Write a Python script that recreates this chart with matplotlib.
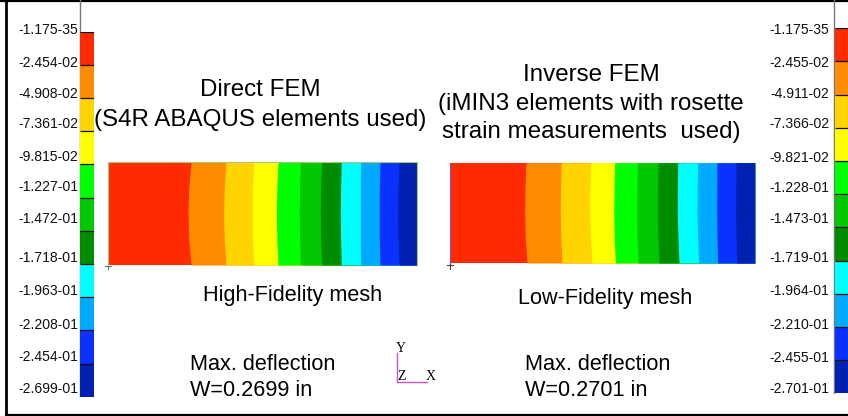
import matplotlib
matplotlib.use("Agg")
import matplotlib.pyplot as plt

plt.rcParams["font.family"] = ["Liberation Sans", "DejaVu Sans"]

# legend levels, as printed on each side
left_labels = ["-1.175-35", "-2.454-02", "-4.908-02", "-7.361-02", "-9.815-02", "-1.227-01",
               "-1.472-01", "-1.718-01", "-1.963-01", "-2.208-01", "-2.454-01", "-2.699-01"]
right_labels = ["-1.175-35", "-2.455-02", "-4.911-02", "-7.366-02", "-9.821-02", "-1.228-01",
                "-1.473-01", "-1.719-01", "-1.964-01", "-2.210-01", "-2.455-01", "-2.701-01"]
left_levels = [0.0, -0.02454, -0.04908, -0.07361, -0.09815, -0.1227,
               -0.1472, -0.1718, -0.1963, -0.2208, -0.2454, -0.2699]
right_levels = [0.0, -0.02455, -0.04911, -0.07366, -0.09821, -0.1228,
                -0.1473, -0.1719, -0.1964, -0.2210, -0.2455, -0.2701]

band_colors = ["#ff2b00", "#ff8c00", "#ffd400", "#ffff00", "#00ff00", "#00c800",
               "#008c00", "#00ffff", "#00aaff", "#0a32ff", "#0020b0"]

# contour band edges along the plate, at the top, middle and bottom of its width
plate_stations = [0.0, 0.25, 0.5, 0.75, 1.0]
left_edges = [
    [82.7, 80.5, 79.7, 80.5, 82.7],
    [117.7, 116, 115.3, 116, 117.7],
    [145.3, 144.3, 144, 144.3, 145.3],
    [169.7, 168.5, 168, 168.5, 169.7],
    [192, 191.3, 191, 191.3, 192],
    [213.3, 212.3, 212, 212.3, 213.3],
    [233, 232.3, 232, 232.3, 233],
    [252.3, 252, 252, 252, 252.3],
    [271.7, 271, 271, 271, 271.7],
    [290.7, 289.7, 289.3, 289.7, 290.7],
]
right_edges = [
    [76, 75, 74.7, 75.3, 77],
    [111.3, 110.5, 110.3, 110.8, 112],
    [140.7, 139.9, 139.7, 140.5, 142],
    [164.7, 164, 163.7, 164.2, 165.3],
    [187.3, 186.9, 186.7, 187, 188],
    [208, 207.5, 207.3, 207.8, 209],
    [227.7, 227.4, 227.3, 228, 229],
    [247.7, 247.2, 247, 247.6, 248.7],
    [267, 266.8, 266.7, 267, 267.7],
    [286, 285.8, 285.7, 286, 286.7],
]

left_label_y = [30, 63, 94, 124, 157, 187, 219, 258, 291, 325, 357, 389]
right_label_y = [30, 63, 94, 124, 158, 188, 219, 258, 291, 325, 358, 389]

W, H = 848, 416


def px_axes(fig, x0, y0, x1, y1):
    """Axes placed by pixel box, y measured from the top of the figure."""
    return fig.add_axes([x0 / W, 1 - y1 / H, (x1 - x0) / W, (y1 - y0) / H])


def draw_colorbar(fig, box, levels):
    ax = px_axes(fig, *box)
    heights = [b - a for a, b in zip(levels[:-1], levels[1:])]
    ax.bar(0, heights, bottom=levels[:-1], width=1, color=band_colors, align="edge", linewidth=0)
    # only the level lines are dark, the bar has no side edges
    ax.hlines(levels[:-1], 0, 1, color="#101010", lw=0.9)
    ax.set_xlim(0, 1)
    ax.set_ylim(levels[-1], levels[0])
    ax.axis("off")


def draw_plate(fig, box, edges, outline, sides):
    ax = px_axes(fig, *box)
    length = box[2] - box[0]
    start = [0.0] * len(plate_stations)
    end = [length] * len(plate_stations)
    bounds = [start] + edges
    # paint each band through to the far end so no seams show between them
    for i, color in enumerate(band_colors):
        ax.fill_betweenx(plate_stations, bounds[i], end, color=color, linewidth=0)
    ax.set_xlim(0, length)
    ax.set_ylim(1, 0)
    ax.set_xticks([])
    ax.set_yticks([])
    for name, side in ax.spines.items():
        side.set_visible(name in sides)
        side.set_color(outline)
        side.set_linewidth(0.8)


fig = plt.figure(figsize=(W / 100, H / 100), dpi=100, facecolor="white")

# whole figure overlay in pixel units, for the frame, text and small marks
bg = fig.add_axes([0, 0, 1, 1])
bg.set_xlim(0, W)
bg.set_ylim(H, 0)
bg.axis("off")
bg.plot([6, 6], [0, 416], color="black", lw=2.0)
bg.plot([0, 848], [0.5, 0.5], color="black", lw=1.6)
bg.plot([6, 848], [415, 415], color="black", lw=1.6)
bg.plot([79.5, 79.5], [0, 396], color="#777777", lw=1.0)
bg.plot([834, 834], [0, 393], color="#777777", lw=1.0)

draw_colorbar(fig, (80, 31.7, 94, 396.7), left_levels)
draw_colorbar(fig, (834.5, 28.3, 848, 393.3), right_levels)
draw_plate(fig, (108.3, 162, 416.7, 265), left_edges, "#a8c878", ("left", "top", "right"))
draw_plate(fig, (450, 162.7, 754.7, 263), right_edges, "#9050c0", ("left",))

for txt, y in zip(left_labels, left_label_y):
    bg.text(78.5, y, txt, ha="right", va="center", fontsize=10.1, color="#111111")
for txt, y in zip(right_labels, right_label_y):
    bg.text(829.5, y, txt, ha="right", va="center", fontsize=10.1, color="#111111")

title_fs = 17.4
bg.text(260, 89.5, "Direct FEM", ha="center", va="center", fontsize=title_fs)
bg.text(260, 120, "(S4R ABAQUS elements used)", ha="center", va="center", fontsize=title_fs)
bg.text(591, 75, "Inverse FEM", ha="center", va="center", fontsize=title_fs)
bg.text(591, 104, "(iMIN3 elements with rosette", ha="center", va="center", fontsize=title_fs)
bg.text(591, 132, "strain measurements  used)", ha="center", va="center", fontsize=title_fs)

body_fs = 15.6
bg.text(292.5, 295.5, "High-Fidelity mesh", ha="center", va="center", fontsize=body_fs)
bg.text(605, 298.5, "Low-Fidelity mesh", ha="center", va="center", fontsize=body_fs)
bg.text(190, 364, "Max. deflection", ha="left", va="center", fontsize=body_fs)
bg.text(190, 390, "W=0.2699 in", ha="left", va="center", fontsize=body_fs)
bg.text(525, 364, "Max. deflection", ha="left", va="center", fontsize=body_fs)
bg.text(525, 390, "W=0.2701 in", ha="left", va="center", fontsize=body_fs)

# coordinate triad and corner node marks
bg.plot([397.3, 397.3, 426.7], [352.7, 382.3, 382.3], color="#d050c8", lw=1.0)
for txt, x, y in [("Y", 401, 348), ("Z", 402, 377), ("X", 431, 377)]:
    bg.text(x, y, txt, ha="center", va="center", fontsize=10, family="Liberation Serif")
bg.plot([105, 111], [266, 266], color="#508080", lw=0.8)
bg.plot([108, 108], [263, 269], color="#508080", lw=0.8)
bg.plot([447, 453], [264.5, 264.5], color="#404040", lw=0.8)
bg.plot([450, 450], [263, 269], color="#404040", lw=0.8)

fig.savefig("out.png", dpi=100)
